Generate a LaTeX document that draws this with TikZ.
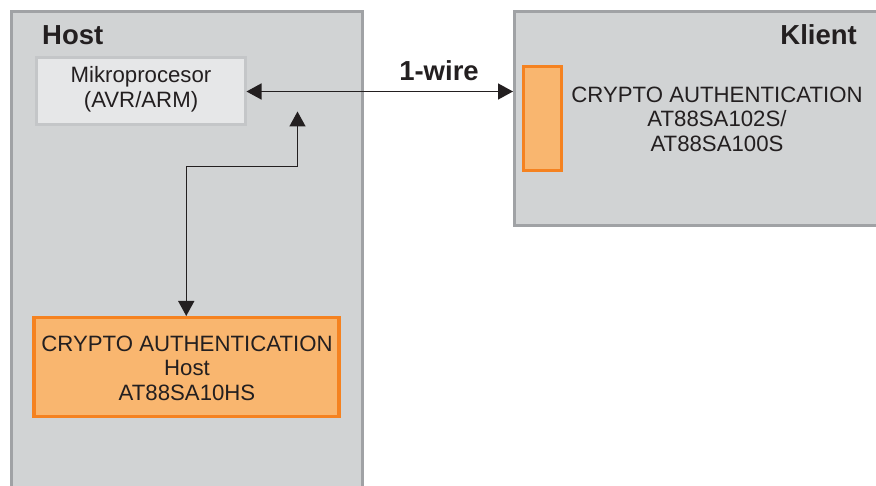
\documentclass[tikz,border=0pt]{standalone}
\usepackage{fontspec}
\setmainfont{Liberation Sans}
\usetikzlibrary{arrows.meta}
\definecolor{panelfill}{HTML}{D1D3D4}
\definecolor{panelline}{HTML}{A0A2A5}
\definecolor{mikrofill}{HTML}{E6E7E8}
\definecolor{mikroline}{HTML}{C4C6C8}
\definecolor{orfill}{HTML}{F9B66F}
\definecolor{orline}{HTML}{F58220}
\definecolor{ink}{HTML}{231F20}
\tikzset{
  panel/.style={draw=panelline, fill=panelfill, line width=3pt, anchor=north west, inner sep=0pt},
  mikrobox/.style={draw=mikroline, fill=mikrofill, line width=3pt, anchor=north west, inner sep=0pt},
  orbox/.style={draw=orline, fill=orfill, line width=3.5pt, anchor=north west, inner sep=0pt},
  txt/.style={font=\fontsize{22.2}{24.6}\selectfont, text=ink, align=center, inner sep=0pt},
  title/.style={font=\fontsize{27.5}{30}\selectfont\bfseries, text=ink, inner sep=0pt},
  conn/.style={draw=ink, line width=1.5pt, {Triangle[length=15pt,width=16pt]}-{Triangle[length=15pt,width=16pt]}},
}
\begin{document}
\begin{tikzpicture}[x=1pt,y=-1pt]
\useasboundingbox (0,0) rectangle (876,486);
% panels
\node[panel, minimum width=350.5pt, minimum height=520pt] (host) at (10,10) {};
\node[panel, minimum width=400pt, minimum height=214pt] (klient) at (513,10) {};
% inner boxes
\node[mikrobox, minimum width=208.5pt, minimum height=67pt] (mikro) at (35,56.5) {};
\node[orbox, minimum width=38pt, minimum height=104pt] (caklient) at (521.7,65) {};
\node[orbox, minimum width=305pt, minimum height=98.5pt] (cahost) at (32,316) {};
% texts
\node[title, anchor=west] (hosttitle) at (42,35) {Host};
\node[title, anchor=east] (klienttitle) at (857,35) {Klient};
\node[title] (wire) at (439,71) {1-wire};
\node[txt] (mikrotext) at (141,89) {Mikroprocesor\\(AVR/ARM)};
\node[txt] (caklienttext) at (717,119) {CRYPTO AUTHENTICATION\\AT88SA102S/\\AT88SA100S};
\node[txt] (cahosttext) at (187,368) {CRYPTO AUTHENTICATION\\Host\\AT88SA10HS};
% connectors
\coordinate (uptip) at (297.5,111.5);
\draw[conn] (mikro.east) -- (mikro.east -| klient.west);
\draw[conn] (uptip) -- ++(0,55) -| (cahost.north);
\end{tikzpicture}
\end{document}
